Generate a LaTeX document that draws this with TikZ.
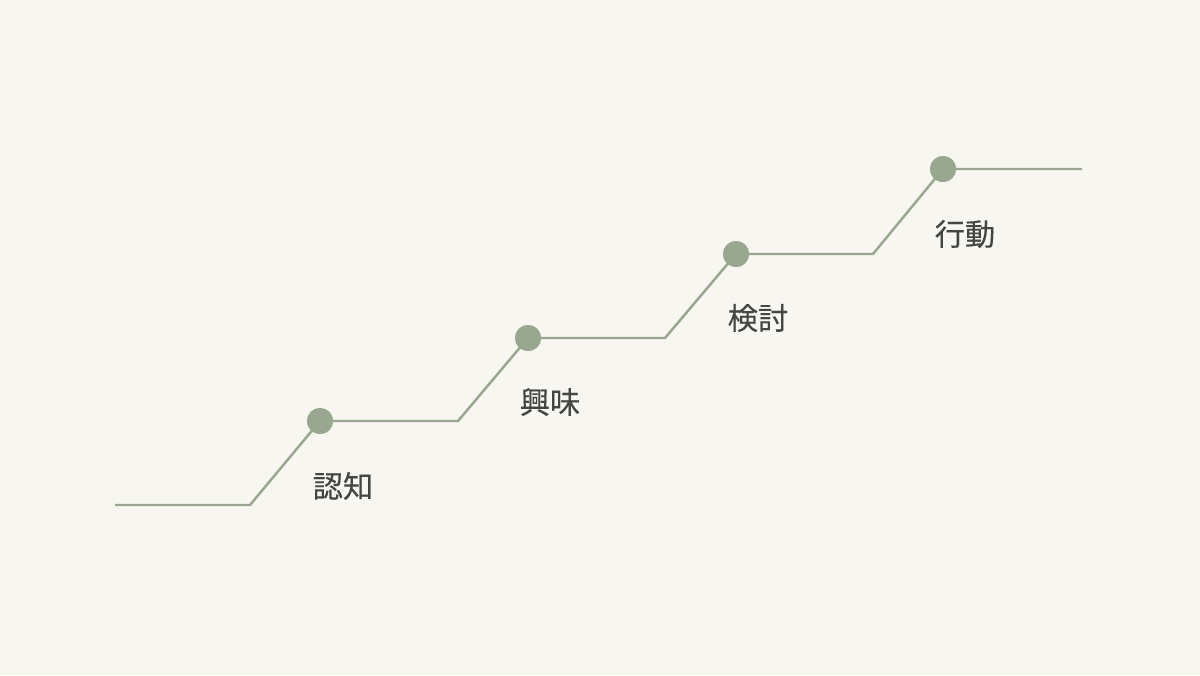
\documentclass[tikz,border=0pt]{standalone}
\usepackage{fontspec}
\newfontfamily\jpfont[FakeBold=0.3]{Noto Sans CJK JP}
\usepackage{xcolor}
\definecolor{paper}{HTML}{F7F6F1}
\definecolor{sage}{HTML}{9AA790}
\definecolor{ink}{HTML}{454644}
\usetikzlibrary{calc}

\begin{document}
\begin{tikzpicture}[x=0.01cm, y=-0.01cm,
        stage/.style={circle, fill=sage, inner sep=0pt, minimum size=0.26cm},
        stagelabel/.style={text=ink, font=\jpfont\fontsize{8.6}{10}\selectfont}]
        \fill[paper] (0,0) rectangle (1200,675);
        \useasboundingbox (0,0) rectangle (1200,675);

        \coordinate (start) at (115,505);
        \coordinate (foot1) at (250,505);
        \coordinate (foot2) at (458,421);
        \coordinate (foot3) at (665,338);
        \coordinate (foot4) at (873,254);
        \coordinate (finish) at (1082,169);

        \node[stage] (ninchi) at (320,421) {};
        \node[stage] (kyomi) at (528,338) {};
        \node[stage] (kento) at (736,254) {};
        \node[stage] (kodo) at (943,169) {};

        \draw[sage, line width=0.7pt] (start)--(foot1)--(ninchi.center)--(foot2)--(kyomi.center)--(foot3)--(kento.center)--(foot4)--(kodo.center)--(finish);
        \foreach \s in {ninchi, kyomi, kento, kodo} \node[stage] at (\s) {};

        \node[stagelabel] (lninchi) at (343,486) {認知};
        \node[stagelabel] (lkyomi) at (550,402) {興味};
        \node[stagelabel] (lkento) at (758,318) {検討};
        \node[stagelabel] (lkodo) at (965,234) {行動};
    \end{tikzpicture}
\end{document}
